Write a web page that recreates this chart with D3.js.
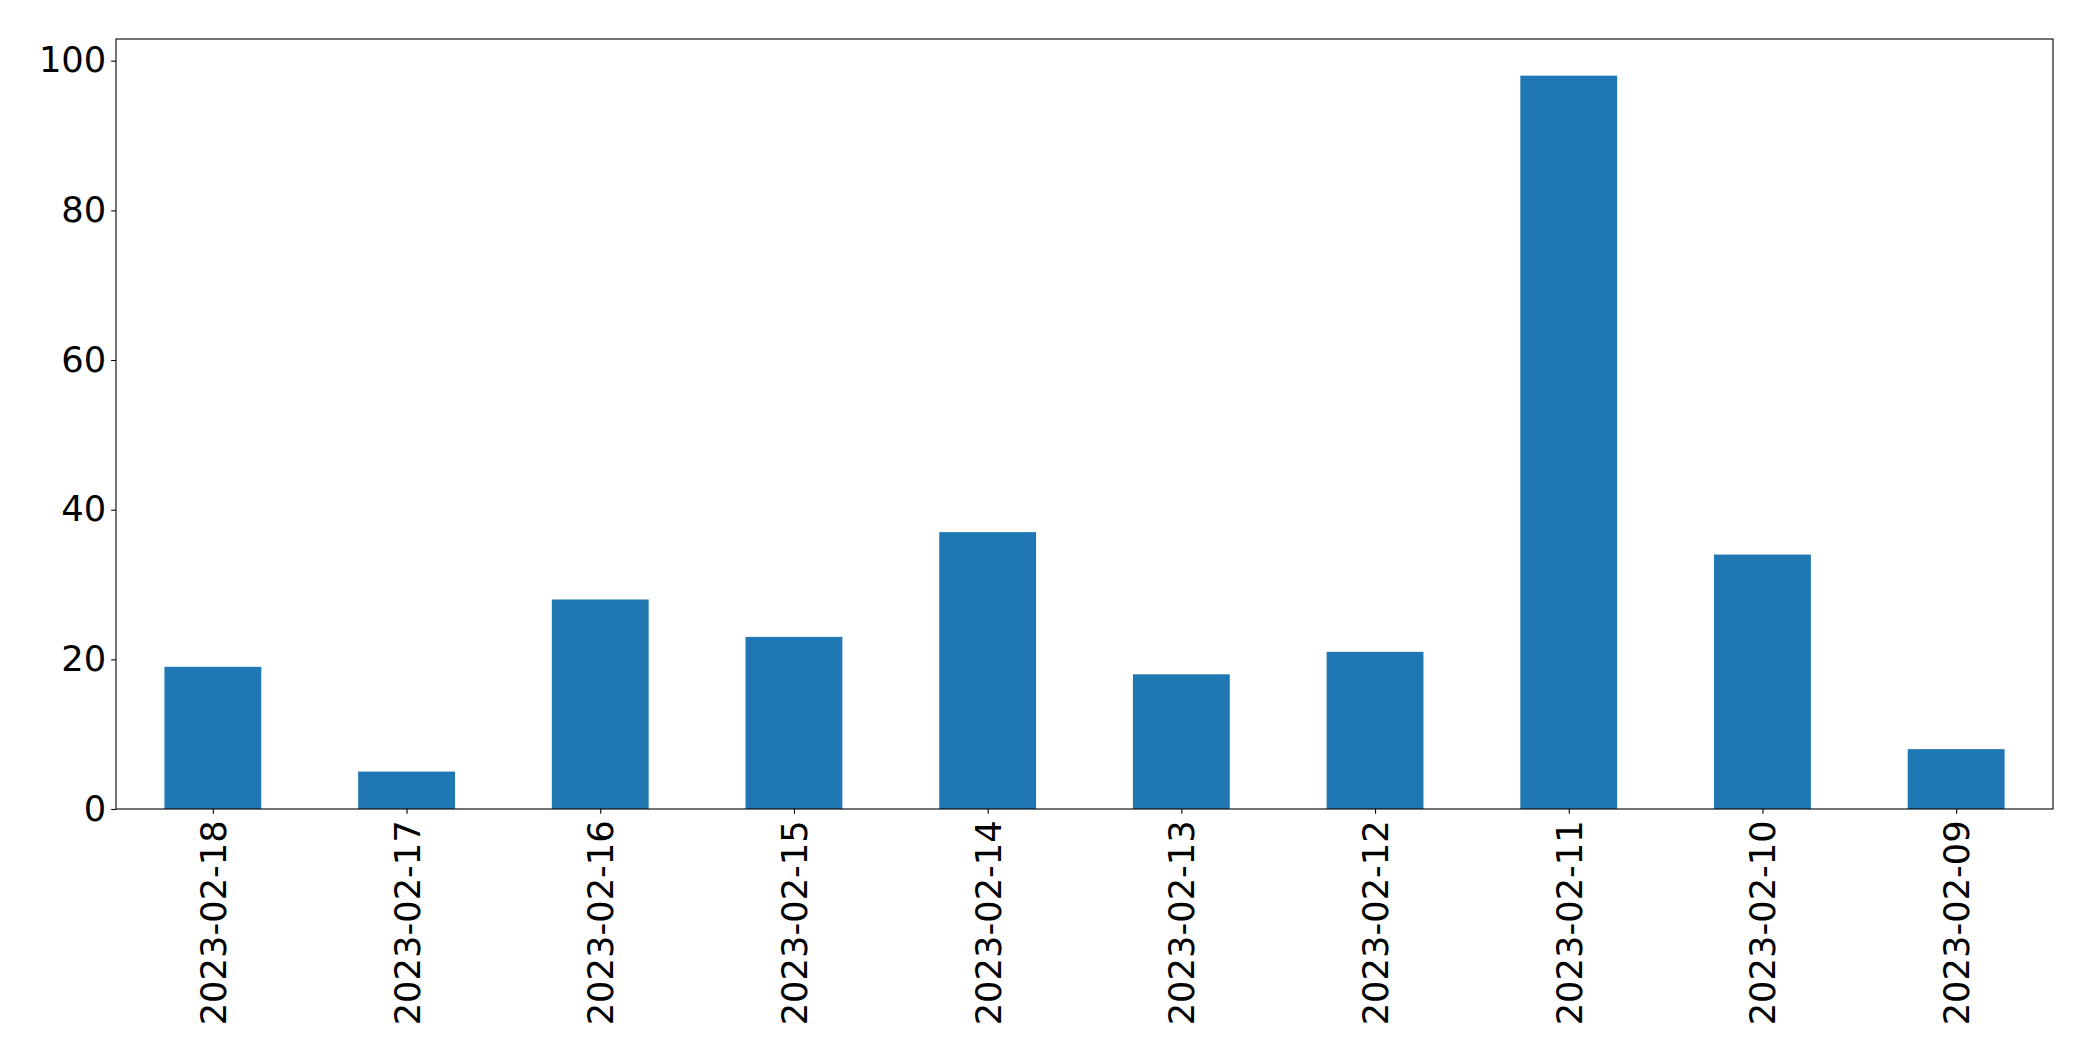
<!DOCTYPE html>
<html><head><meta charset="utf-8">
<script src="https://cdn.jsdelivr.net/npm/d3@7"></script>
<style>body{margin:0;background:#fff;} svg{display:block;}</style>
</head><body>
<svg id="chart" width="2093" height="1061"></svg>
<script>
const categories = ["2023-02-18","2023-02-17","2023-02-16","2023-02-15","2023-02-14","2023-02-13","2023-02-12","2023-02-11","2023-02-10","2023-02-09"];
const values = [19, 5, 28, 23, 37, 18, 21, 98, 34, 8];
const yTicks = [0, 20, 40, 60, 80, 100];

const W = 2093, H = 1061;
const m = {left: 116, top: 39, right: 2053, bottom: 809};
const svg = d3.select("#chart");
const font = "DejaVu Sans, sans-serif";
const fs = 35.3;

const x = d3.scaleLinear().domain([-0.5, categories.length - 0.5]).range([m.left, m.right]);
const y = d3.scaleLinear().domain([0, d3.max(values) * 1.05]).range([m.bottom, m.top]);

svg.append("g").selectAll("rect").data(values).join("rect")
  .attr("x", (d, i) => x(i - 0.25))
  .attr("width", (d, i) => x(i + 0.25) - x(i - 0.25))
  .attr("y", d => y(d))
  .attr("height", d => y(0) - y(d))
  .attr("fill", "#1f77b4");

const tickLen = 4.86, pad = 4.86;
// y axis
const ya = svg.append("g").attr("transform", `translate(${m.left},0)`)
  .call(d3.axisLeft(y).tickValues(yTicks).tickSize(tickLen).tickPadding(pad).tickFormat(d3.format("d")));
ya.select(".domain").remove();
ya.selectAll("line").attr("stroke", "#000").attr("stroke-width", 1.1);
ya.selectAll("text").attr("font-family", font).attr("font-size", fs).attr("fill", "#000");

// x axis
const xa = svg.append("g").attr("transform", `translate(0,${m.bottom})`)
  .call(d3.axisBottom(x).tickValues(d3.range(categories.length)).tickSize(tickLen).tickPadding(pad).tickFormat(i => categories[i]));
xa.select(".domain").remove();
xa.selectAll("line").attr("stroke", "#000").attr("stroke-width", 1.1);
xa.selectAll("text")
  .attr("font-family", font).attr("font-size", fs).attr("fill", "#000")
  .attr("text-anchor", "end")
  .attr("dy", null)
  .attr("dominant-baseline", "central")
  .attr("y", 0)
  .attr("transform", `translate(0,${tickLen + pad + 1.5}) rotate(-90)`);

// frame
svg.append("rect").attr("x", m.left).attr("y", m.top)
  .attr("width", m.right - m.left).attr("height", m.bottom - m.top)
  .attr("fill", "none").attr("stroke", "#000").attr("stroke-width", 1.1);
</script>
</body></html>
